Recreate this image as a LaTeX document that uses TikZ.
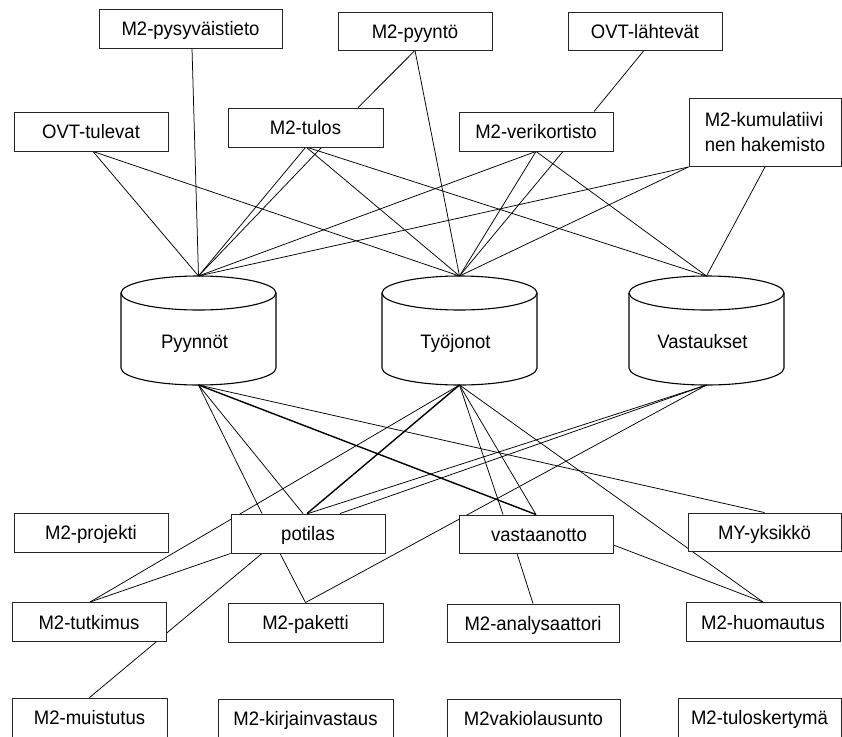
\documentclass[tikz,border=0pt]{standalone}
\usepackage{fontspec}
\setmainfont{Liberation Sans}[FakeStretch=0.95]
\usetikzlibrary{calc}
\pgfdeclarelayer{back}
\pgfsetlayers{back,main}

\tikzset{
  boxbase/.style={draw=black!85, line width=0.9pt, fill=white, rectangle,
    minimum width=154pt, minimum height=39pt, inner sep=0pt,
    font=\fontsize{19.5}{25}\selectfont},
  box/.style={boxbase, text height=14pt, text depth=0pt},
  link/.style={draw=black, line width=0.75pt},
  heavy/.style={draw=black, line width=1.4pt},
  cylline/.style={draw=black, line width=1.1pt},
  cyllabel/.style={font=\fontsize{19.5}{25}\selectfont, inner sep=0pt, anchor=base}
}

% database cylinder: name, centre x, label
\newcommand\dbstore[3]{%
  \draw[cylline] (#2-77.5,293) -- (#2-77.5,368)
    arc[start angle=180, end angle=0, x radius=77.5, y radius=17] -- (#2+77.5,293);
  \draw[cylline] (#2,293) ellipse[x radius=77.5, y radius=17];
  \node[cyllabel] (#1) at (#2-4,348.5) {#3};
  \coordinate (#1-top) at (#2,276);
  \coordinate (#1-bot) at (#2,385);
}

\begin{document}
\begin{tikzpicture}[x=1pt, y=-1pt]
\useasboundingbox (0,0) rectangle (842,736);

% --- stores ---
\dbstore{pyy}{198.5}{Pyynnöt}
\dbstore{tyo}{459.5}{Työjonot}
\dbstore{vas}{706.5}{Vastaukset}

% --- upper entities ---
\node[box, minimum width=183pt] (pysy) at (190.5,28.5) {M2-pysyväistieto\hspace{18pt}};
\node[box, minimum height=38pt] (pyynto) at (415,31) {M2-pyyntö\hspace{11pt}};
\node[box, minimum height=38pt] (ovtl) at (645,31) {OVT-lähtevät\hspace{16pt}};
\node[box] (ovtt) at (91,131.5) {OVT-tulevat\hspace{12pt}};
\node[box, minimum width=155pt] (tulos) at (305.5,127.5) {M2-tulos\hspace{9pt}};
\node[box] (veri) at (536,131.5) {M2-verikortisto\hspace{20pt}};
\node[boxbase, minimum width=152pt, minimum height=68pt,
      align=left, font=\fontsize{19.5}{25}\selectfont] (kumu) at (765,132.5)
      {M2-kumulatiivi\\nen hakemisto\hspace{14pt}};

% --- lower entities ---
\node[box] (proj) at (91,532.5) {M2-projekti\hspace{11pt}};
\node[box] (pot) at (308,533.5) {potilas\hspace{6pt}};
\node[box, minimum height=38pt] (vasta) at (536,534) {\hspace{6pt}vastaanotto};
\node[box, minimum width=153pt, minimum height=38pt] (my) at (764.5,532) {MY-yksikkö\hspace{9pt}};
\node[box] (tutk) at (89,622) {M2-tutkimus\hspace{13pt}};
\node[box, minimum width=155pt] (paketti) at (305.5,622.5) {M2-paketti\hspace{12pt}};
\node[box, minimum width=172pt, minimum height=38pt] (analys) at (533,623) {M2-analysaattori\hspace{22pt}};
\node[box] (huom) at (763,622) {M2-huomautus\hspace{18pt}};
\node[box, minimum width=155pt] (muist) at (89.5,717.5) {M2-muistutus\hspace{15pt}};
\node[box, minimum width=175pt] (kirj) at (305.5,718.5) {M2-kirjainvastaus\hspace{20pt}};
\node[box, minimum width=173pt] (vakio) at (533.5,718.5) {M2vakiolausunto\hspace{22pt}};
\node[box, minimum width=163pt] (tulosk) at (759.5,717.5) {M2-tuloskertymä\hspace{12pt}};

% --- connectors, drawn behind the boxes ---
\begin{pgfonlayer}{back}
\fill[white] (0,0) rectangle (842,736);

% upper entities to the stores
\draw[link] ([xshift=1.5pt]pysy.south) -- (pyy-top);
\draw[link] ([xshift=2pt]ovtt.south) -- (pyy-top);
\draw[link] ([xshift=2pt]ovtt.south) -- (tyo-top);
\draw[link] (tulos.south) -- (pyy-top);
\draw[link] ([xshift=16pt]tulos.south) -- (pyy-top);
\draw[link] ([xshift=1pt]tulos.south) -- (tyo-top);
\draw[link] ([xshift=2pt]tulos.south) -- (vas-top);
\draw[link] (pyynto.south) -- ([xshift=52.5pt]tulos.north);
\draw[link] (pyynto.south) -- (tyo-top);
\draw[link] ([xshift=-1pt]ovtl.south) -- ([xshift=58pt]veri.north);
\draw[link] (veri.south) -- (pyy-top);
\draw[link] (veri.south) -- (tyo-top);
\draw[link] ([xshift=27pt]veri.south) -- (tyo-top);
\draw[link] (veri.south) -- (vas-top);
\draw[link] (kumu.south west) -- (pyy-top);
\draw[link] (kumu.south west) -- (tyo-top);
\draw[link] (kumu.south) -- (vas-top);

% stores to lower entities
\draw[link] (pyy-bot) -- ([xshift=-46pt]pot.north);
\draw[link] (pyy-bot) -- ([xshift=-5pt]pot.north);
\draw[heavy] (pyy-bot) -- (vasta.north);
\draw[link] (pyy-bot) -- (my.north);
\draw[link] (tyo-bot) -- ([xshift=1pt]tutk.north);
\draw[heavy] (tyo-bot) -- ([xshift=-1pt]pot.north);
\draw[link] (tyo-bot) -- ([xshift=-33pt]vasta.north);
\draw[link] (tyo-bot) -- (vasta.north);
\draw[link] (tyo-bot) -- (huom.north);
\draw[link] (vas-bot) -- (pot.north);
\draw[link] (vas-bot) -- ([xshift=32pt]pot.north);
\draw[link] (vas-bot) -- (paketti.north);

% between lower entities
\draw[link] (pot.south west) -- ([xshift=1pt]tutk.north);
\draw[link] ([xshift=-46pt]pot.south) -- (muist.north);
\draw[link] ([xshift=-28pt]pot.south) -- (paketti.north);
\draw[link] ([yshift=-11pt]vasta.east) -- (huom.north);
\draw[link] ([xshift=-19pt]vasta.south) -- (analys.north);
\end{pgfonlayer}

\end{tikzpicture}
\end{document}
